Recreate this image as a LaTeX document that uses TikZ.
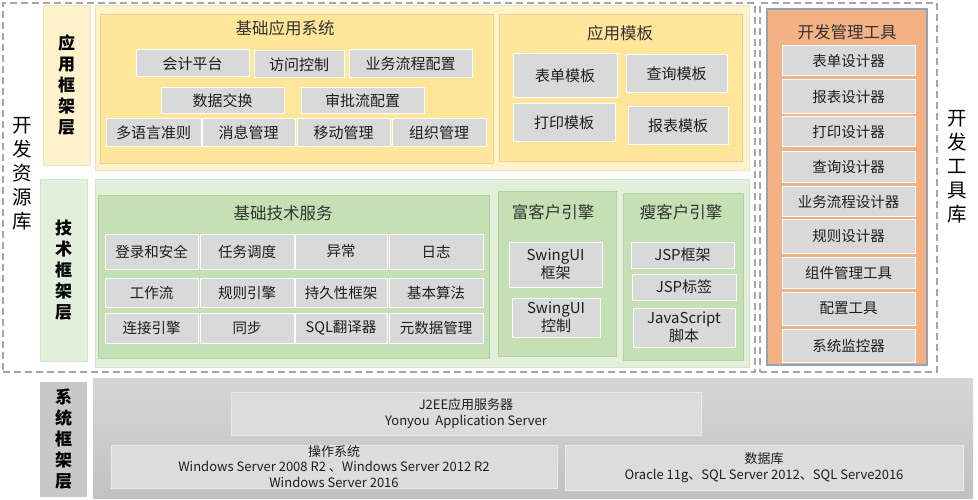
\documentclass[tikz,border=0pt]{standalone}
\usepackage{fontspec}
\setmainfont{Noto Sans CJK SC}
\definecolor{cellgray}{HTML}{D9D9D9}
\definecolor{txt}{HTML}{1E1E1E}
\definecolor{yelpale}{HTML}{FFF2CC}
\definecolor{yelpaleedge}{HTML}{F3E4BC}
\definecolor{yelmid}{HTML}{FFE699}
\definecolor{yelmidedge}{HTML}{EAD293}
\definecolor{grnpale}{HTML}{E2EFDA}
\definecolor{grnpaleedge}{HTML}{D3E4C8}
\definecolor{grnmid}{HTML}{C5E0B4}
\definecolor{grnmidedge}{HTML}{B3D19F}
\definecolor{orng}{HTML}{F4B183}
\definecolor{orngedge}{HTML}{8FA5BC}
\definecolor{dashgray}{HTML}{A6A6A6}
\definecolor{syslabel}{HTML}{C8C8C8}
\definecolor{systop}{HTML}{D6D6D6}
\definecolor{sysbot}{HTML}{C2C2C2}
\definecolor{sysbox}{HTML}{DCDCDC}
\definecolor{sysboxedge}{HTML}{E9E9E9}
\newcommand\rbox[7][]{\node[#1, minimum width={#5pt-#3pt}, minimum height={#6pt-#4pt}] (#2) at ({(#3+#5)/2},{(#4+#6)/2}) {#7};}
\begin{document}
\begin{tikzpicture}[x=1pt,y=-1pt,
  base/.style={inner sep=0pt, outer sep=0pt, align=center, text=txt},
  cell/.style={base, draw=white, line width=1pt, fill=cellgray, font=\fontsize{15}{18}\selectfont},
  tcell/.style={cell, font=\fontsize{14.5}{17}\selectfont},
  dashbox/.style={base, draw=dashgray, line width=1.5pt, dash pattern=on 7pt off 4pt},
  title/.style={base, text=black!80, font=\fontsize{16.5}{20}\selectfont},
  layer/.style={base, text=black, font=\bfseries\fontsize{17}{21}\selectfont},
  sidelab/.style={base, text=black, font=\fontsize{19.5}{24}\selectfont},
  ypale/.style={base, fill=yelpale, draw=yelpaleedge, line width=0.8pt},
  ymid/.style={base, fill=yelmid, draw=yelmidedge, line width=0.8pt},
  gpale/.style={base, fill=grnpale, draw=grnpaleedge, line width=0.8pt},
  gmid/.style={base, fill=grnmid, draw=grnmidedge, line width=0.8pt},
  sysbg/.style={base, top color=systop, bottom color=sysbot, draw=none},
  sbox/.style={base, fill=sysbox, draw=sysboxedge, line width=1pt, font=\fontsize{13}{15.5}\selectfont},
]
\useasboundingbox (0,0) rectangle (978,500);
\fill[white] (0,0) rectangle (978,500);

% dashed outer groups
\rbox[dashbox]{resbox}{3}{3}{755}{372}{}
\rbox[dashbox]{toolbox}{760}{3}{937}{372}{}
\node[sidelab] (reslab) at (22,174) {开\\发\\资\\源\\库};
\node[sidelab] (toollab) at (957,167) {开\\发\\工\\具\\库};

% ===== application layer =====
\rbox[ypale]{applab}{43}{5}{90}{165}{}
\node[layer] (applabt) at (applab.center) {应\\用\\框\\架\\层};
\rbox[ypale]{appouter}{95}{5}{749}{170}{}
\rbox[ymid]{appsys}{100}{14}{493}{163}{}
\node[title] (appsyst) at (285,28) {基础应用系统};
\rbox[cell]{a1}{136}{50}{249}{77}{会计平台}
\rbox[cell]{a2}{254}{51}{344}{78}{访问控制}
\rbox[cell]{a3}{349}{50}{472}{78}{业务流程配置}
\rbox[cell]{a4}{161}{88}{284}{114}{数据交换}
\rbox[cell]{a5}{301}{88}{424}{114}{审批流配置}
\rbox[cell]{a6}{106}{119}{201}{147}{多语言准则}
\rbox[cell]{a7}{202}{119}{295}{147}{消息管理}
\rbox[cell]{a8}{297}{119}{390}{147}{移动管理}
\rbox[cell]{a9}{392}{119}{486}{147}{组织管理}

\rbox[ymid]{tmpl}{499}{14}{742}{161}{}
\node[title] (tmplt) at (620,33) {应用模板};
\rbox[cell]{m1}{513}{54}{617}{98}{表单模板}
\rbox[cell]{m2}{626}{55}{727}{93}{查询模板}
\rbox[cell]{m3}{513}{104}{615}{142}{打印模板}
\rbox[cell]{m4}{628}{107}{728}{145}{报表模板}

% ===== tools =====
\rbox[base, fill=orng, draw=orngedge, line width=1.2pt]{tools}{767}{9}{927}{365}{}
\node[title] (toolst) at (847,32) {开发管理工具};
\rbox[tcell]{t1}{782}{46}{915}{76}{表单设计器}
\rbox[tcell]{t2}{782}{80}{915}{114}{报表设计器}
\rbox[tcell]{t3}{782}{117}{915}{147}{打印设计器}
\rbox[tcell]{t4}{782}{152}{915}{183}{查询设计器}
\rbox[tcell]{t5}{782}{187}{915}{217}{业务流程设计器}
\rbox[tcell]{t6}{782}{220}{915}{253}{规则设计器}
\rbox[tcell]{t7}{782}{257}{915}{288}{组件管理工具}
\rbox[tcell]{t8}{782}{292}{915}{325}{配置工具}
\rbox[tcell]{t9}{782}{329}{915}{362}{系统监控器}

% ===== technical layer =====
\rbox[gpale]{techlab}{40}{179}{87}{361}{}
\node[layer] (techlabt) at (techlab.center) {技\\术\\框\\架\\层};
\rbox[gpale]{techouter}{95}{179}{749}{367}{}
\rbox[gmid]{basetech}{98}{195}{489}{358}{}
\node[title] (basetecht) at (283,213) {基础技术服务};
\rbox[tcell]{b1}{105}{234}{198}{269}{登录和安全}
\rbox[tcell]{b2}{200}{234}{294}{269}{任务调度}
\rbox[tcell]{b3}{295}{234}{387}{269}{异常}
\rbox[tcell]{b4}{389}{234}{483}{269}{日志}
\rbox[tcell]{b5}{105}{278}{198}{307}{工作流}
\rbox[tcell]{b6}{200}{278}{294}{307}{规则引擎}
\rbox[tcell]{b7}{295}{278}{387}{307}{持久性框架}
\rbox[tcell]{b8}{389}{278}{483}{307}{基本算法}
\rbox[tcell]{b9}{105}{313}{198}{343}{连接引擎}
\rbox[tcell]{b10}{200}{313}{294}{343}{同步}
\rbox[tcell]{b11}{295}{313}{387}{343}{SQL翻译器}
\rbox[tcell]{b12}{389}{313}{483}{343}{元数据管理}

\rbox[gmid]{rich}{498}{191}{616}{356}{}
\node[title] (richt) at (553,212) {富客户引擎};
\rbox[cell]{r1}{509}{242}{602}{287}{SwingUI\\框架}
\rbox[cell]{r2}{512}{298}{600}{337}{SwingUI\\控制}

\rbox[gmid]{thin}{623}{193}{743}{360}{}
\node[title] (thint) at (681,212) {瘦客户引擎};
\rbox[cell]{n1}{631}{242}{734}{268}{JSP框架}
\rbox[cell]{n2}{632}{274}{736}{300}{JSP标签}
\rbox[cell]{n3}{633}{308}{735}{347}{JavaScript\\脚本}

% ===== system layer =====
\rbox[base, fill=syslabel]{syslab}{40}{382}{87}{497}{}
\node[layer] (syslabt) at (syslab.center) {系\\统\\框\\架\\层};
\rbox[sysbg]{sysbg}{93}{378}{973}{498}{}
\rbox[sbox]{j2ee}{231}{392}{701}{435}{J2EE应用服务器\\Yonyou\ \ Application Server}
\rbox[sbox]{os}{111}{445}{557}{488}{操作系统\\Windows Server 2008 R2 、Windows Server 2012 R2\\Windows Server 2016}
\rbox[sbox]{db}{565}{445}{963}{490}{数据库\\Oracle 11g、SQL Server 2012、SQL Serve2016}
\end{tikzpicture}
\end{document}
